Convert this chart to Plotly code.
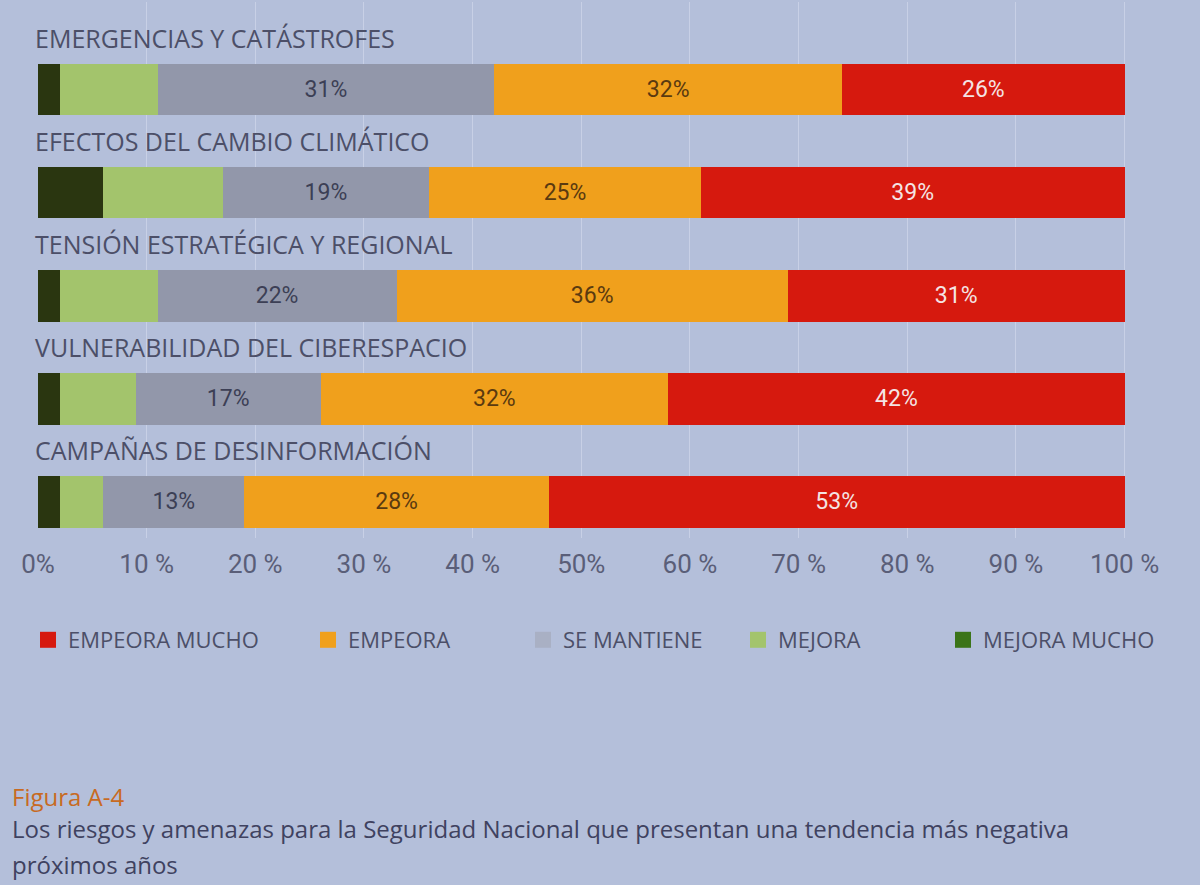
import plotly.graph_objects as go

categories = [
    "EMERGENCIAS Y CATÁSTROFES",
    "EFECTOS DEL CAMBIO CLIMÁTICO",
    "TENSIÓN ESTRATÉGICA Y REGIONAL",
    "VULNERABILIDAD DEL CIBERESPACIO",
    "CAMPAÑAS DE DESINFORMACIÓN",
]
mejora_mucho = [2, 6, 2, 2, 2]
mejora = [9, 11, 9, 7, 4]
se_mantiene = [31, 19, 22, 17, 13]
empeora = [32, 25, 36, 32, 28]
empeora_mucho = [26, 39, 31, 42, 53]

series_names = ["MEJORA MUCHO", "MEJORA", "SE MANTIENE", "EMPEORA", "EMPEORA MUCHO"]
tick_vals = [0, 10, 20, 30, 40, 50, 60, 70, 80, 90, 100]
tick_text = ["0%", "10 %", "20 %", "30 %", "40 %", "50%", "60 %", "70 %", "80 %", "90 %", "100 %"]

caption_title = "Figura A-4"
caption_line1 = "Los riesgos y amenazas para la Seguridad Nacional que presentan una tendencia más negativa"
caption_line2 = "próximos años"

colors = ["#2a3610", "#a3c46c", "#9297aa", "#f0a01c", "#d6190e"]
legend_colors = ["#3b7418", "#a3c46c", "#a9b0c4", "#f0a01c", "#d6190e"]
label_colors = [None, None, "#3c3f55", "#5a3a10", "#f4e4e4"]
show_labels = [False, False, True, True, True]

BG = "#b4bfda"
TEXT = "#4c4f68"
FONT = "Open Sans"

L_MARGIN, R_MARGIN, T_MARGIN, B_MARGIN = 38, 70, 2, 347
PLOT_W = 1200 - L_MARGIN - R_MARGIN
PLOT_H = 885 - T_MARGIN - B_MARGIN

ypos = list(range(len(categories)))
series_values = [mejora_mucho, mejora, se_mantiene, empeora, empeora_mucho]

fig = go.Figure()
for name, vals, col, lc, sl in zip(series_names, series_values, colors, label_colors, show_labels):
    fig.add_trace(go.Bar(
        name=name,
        y=ypos,
        x=vals,
        orientation="h",
        width=0.5,
        marker=dict(color=col, line=dict(width=0)),
        text=[f"{v}%" for v in vals] if sl else None,
        textposition="inside" if sl else "none",
        insidetextanchor="middle",
        textangle=0,
        textfont=dict(family="Roboto", size=23, color=lc if lc else "#000"),
        hoverinfo="skip",
        showlegend=False,
    ))

# legend proxies, one legend per item so the spacing matches the reference
legend_left_px = [40, 320, 535, 750, 955]
legend_order = list(range(len(series_names)))[::-1]
legend_layouts = {}
for k, idx in enumerate(legend_order):
    lname = "legend" if k == 0 else f"legend{k + 1}"
    fig.add_trace(go.Scatter(
        x=[None], y=[None], mode="markers", name=series_names[idx],
        marker=dict(symbol="square", size=16, color=legend_colors[idx], line=dict(width=0)),
        legend=lname, showlegend=True, hoverinfo="skip",
    ))
    legend_layouts[lname] = dict(
        orientation="h",
        x=(legend_left_px[k] - 12 - L_MARGIN) / PLOT_W, xanchor="left",
        y=-(640 - (T_MARGIN + PLOT_H)) / PLOT_H, yanchor="middle",
        font=dict(family=FONT, size=22, color=TEXT),
        bgcolor="rgba(0,0,0,0)",
    )

for i, cat in enumerate(categories):
    fig.add_annotation(
        x=0, y=i - 0.5, xref="x", yref="y",
        text=cat, showarrow=False, xanchor="left", yanchor="middle",
        xshift=-5,
        font=dict(family=FONT, size=25, color=TEXT),
    )

def py(px):
    return -(px - (T_MARGIN + PLOT_H)) / PLOT_H

cap_x = (10 - L_MARGIN) / PLOT_W
fig.add_annotation(x=cap_x, y=py(796), xref="paper", yref="paper", text=caption_title,
                   showarrow=False, xanchor="left", yanchor="middle",
                   font=dict(family=FONT, size=24, color="#c86a22"))
fig.add_annotation(x=cap_x, y=py(829), xref="paper", yref="paper", text=caption_line1,
                   showarrow=False, xanchor="left", yanchor="middle",
                   font=dict(family=FONT, size=24, color="#3f4260"))
fig.add_annotation(x=cap_x, y=py(864), xref="paper", yref="paper", text=caption_line2,
                   showarrow=False, xanchor="left", yanchor="middle",
                   font=dict(family=FONT, size=24, color="#3f4260"))

fig.update_layout(
    width=1200, height=885,
    barmode="stack",
    paper_bgcolor=BG, plot_bgcolor=BG,
    margin=dict(l=L_MARGIN, r=R_MARGIN, t=T_MARGIN, b=B_MARGIN),
    showlegend=True,
    xaxis=dict(
        range=[0, 100.5],
        tickvals=tick_vals, ticktext=tick_text,
        showgrid=True, gridcolor="#c8d0e6", gridwidth=1,
        zeroline=False, showline=False, ticks="",
        ticklabelstandoff=8,
        tickfont=dict(family="Roboto", size=26, color="#5a5e78"),
        fixedrange=True,
    ),
    yaxis=dict(
        range=[4.35, -0.85],
        showticklabels=False, showgrid=False, zeroline=False, showline=False,
        fixedrange=True,
    ),
    **legend_layouts,
)

fig.write_html("out.html", config={"displayModeBar": False},
               post_script="document.body.style.margin='0';")
